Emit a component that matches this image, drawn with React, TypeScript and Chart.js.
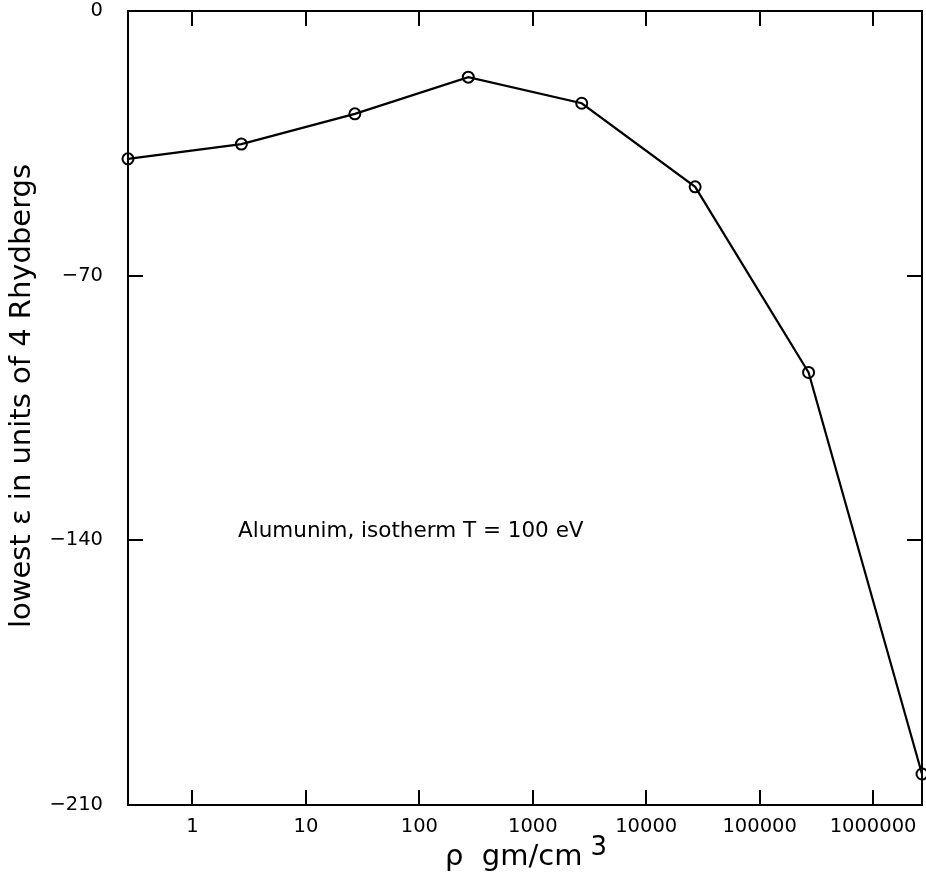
import React, { useEffect, useRef } from "react";
import { Chart, registerables } from "chart.js";
Chart.register(...registerables);

const densities = [0.27, 2.7, 27, 270, 2700, 27000, 270000, 2700000];
const lowestEnergy = [-39.1, -35.2, -27.2, -17.5, -24.4, -46.5, -95.6, -201.8];
const xTickValues = [1, 10, 100, 1000, 10000, 100000, 1000000];
const xTickLabels = ["1", "10", "100", "1000", "10000", "100000", "1000000"];
const yTickValues = [0, -70, -140, -210];
const yTickLabels = ["0", "\u221270", "\u2212140", "\u2212210"];
const yAxisTitle = "lowest \u03b5 in units of 4 Rhydbergs";
const xAxisTitle = "\u03c1  gm/cm";
const xAxisTitleSup = "3";
const annotation = "Alumunim, isotherm T = 100 eV";

const FONT = "'DejaVu Sans', sans-serif";

export default function App() {
  const ref = useRef<HTMLCanvasElement | null>(null);
  useEffect(() => {
    if (!ref.current) return;
    const framePlugin = {
      id: "frame",
      afterDraw(chart: any) {
        const { ctx, chartArea } = chart;
        const { left, right, top, bottom } = chartArea;
        const xs = chart.scales.x;
        const ys = chart.scales.y;
        ctx.save();
        ctx.strokeStyle = "#000";
        ctx.lineWidth = 2;
        ctx.strokeRect(left, top, right - left, bottom - top);
        const tl = 15;
        ctx.beginPath();
        xTickValues.forEach((v) => {
          const px = Math.round(xs.getPixelForValue(v));
          ctx.moveTo(px, bottom);
          ctx.lineTo(px, bottom - tl);
          ctx.moveTo(px, top);
          ctx.lineTo(px, top + tl);
        });
        yTickValues.forEach((v) => {
          const py = Math.round(ys.getPixelForValue(v));
          ctx.moveTo(left, py);
          ctx.lineTo(left + tl, py);
          ctx.moveTo(right, py);
          ctx.lineTo(right - tl, py);
        });
        ctx.stroke();

        ctx.fillStyle = "#000";
        // y title
        ctx.save();
        ctx.font = `29px ${FONT}`;
        ctx.translate(30, 396);
        ctx.rotate(-Math.PI / 2);
        ctx.textAlign = "center";
        ctx.textBaseline = "alphabetic";
        ctx.fillText(yAxisTitle, 0, 0);
        ctx.restore();
        // x title
        ctx.font = `29px ${FONT}`;
        ctx.textAlign = "left";
        ctx.textBaseline = "alphabetic";
        ctx.fillText(xAxisTitle, 445, 865);
        const w = ctx.measureText(xAxisTitle).width;
        ctx.font = `26px ${FONT}`;
        ctx.fillText(xAxisTitleSup, 445 + w + 8, 855);
        // annotation
        ctx.font = `21.5px ${FONT}`;
        ctx.textBaseline = "middle";
        ctx.fillText(annotation, 238, 531);
        ctx.restore();
      },
    };
    const chart = new Chart(ref.current, {
      type: "line",
      data: {
        datasets: [
          {
            data: densities.map((d, i) => ({ x: d, y: lowestEnergy[i] })),
            borderColor: "#000",
            borderWidth: 2.2,
            pointRadius: 5.5,
            pointBorderWidth: 2,
            pointBorderColor: "#000",
            pointBackgroundColor: "rgba(0,0,0,0)",
            pointStyle: "circle",
            fill: false,
            tension: 0,
            clip: false as any,
          },
        ],
      },
      options: {
        animation: false,
        responsive: false,
        layout: { autoPadding: false, padding: { top: 11, right: 4, left: 0, bottom: 0 } },
        plugins: { legend: { display: false }, tooltip: { enabled: false } },
        scales: {
          x: {
            type: "logarithmic",
            min: densities[0],
            max: densities[densities.length - 1],
            grid: { display: false, drawTicks: false },
            border: { display: false },
            afterBuildTicks: (scale: any) => {
              scale.ticks = xTickValues.map((v) => ({ value: v }));
            },
            afterFit: (scale: any) => {
              scale.height = 71;
              scale.paddingLeft = 0;
              scale.paddingRight = 0;
              scale.paddingTop = 0;
              scale.paddingBottom = 0;
            },
            ticks: {
              autoSkip: false,
              maxRotation: 0,
              padding: 10,
              color: "#000",
              font: { family: FONT, size: 19.5 },
              callback: (v: any) => {
                const i = xTickValues.indexOf(Number(v));
                return i >= 0 ? xTickLabels[i] : "";
              },
            },
          },
          y: {
            type: "linear",
            min: -210,
            max: 0,
            grid: { display: false, drawTicks: false },
            border: { display: false },
            afterBuildTicks: (scale: any) => {
              scale.ticks = yTickValues.map((v) => ({ value: v }));
            },
            afterFit: (scale: any) => {
              scale.width = 128;
              scale.paddingLeft = 0;
              scale.paddingRight = 0;
              scale.paddingTop = 0;
              scale.paddingBottom = 0;
            },
            ticks: {
              padding: 25,
              color: "#000",
              font: { family: FONT, size: 19.5 },
              callback: (v: any) => {
                const i = yTickValues.indexOf(Number(v));
                return i >= 0 ? yTickLabels[i] : "";
              },
            },
          },
        },
      },
      plugins: [framePlugin],
    });
    return () => chart.destroy();
  }, []);
  return (
    <div style={{ position: "fixed", left: 0, top: 0, width: 926, height: 876, background: "#fff" }}>
      <canvas ref={ref} width={926} height={876} style={{ display: "block" }} />
    </div>
  );
}
